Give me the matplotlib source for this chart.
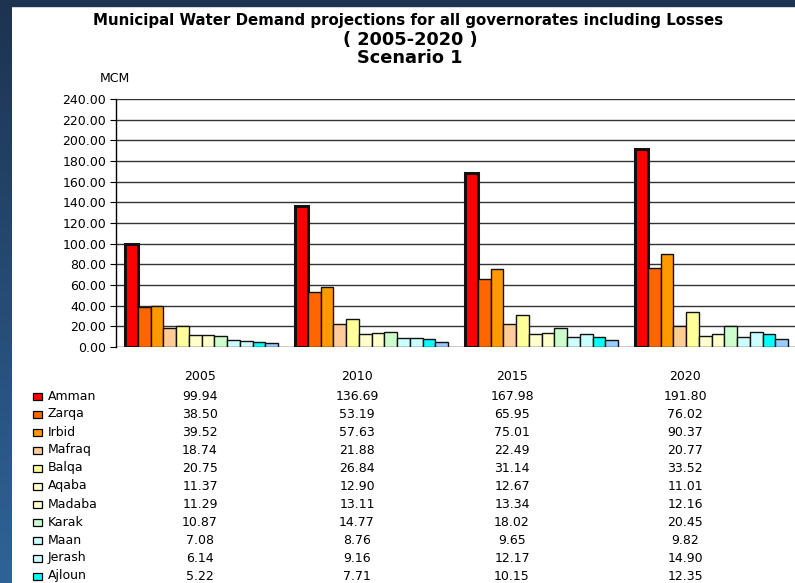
import numpy as np
import matplotlib.pyplot as plt
from matplotlib.patches import Rectangle
from matplotlib.colors import LinearSegmentedColormap

plt.rcParams['font.family'] = ['DejaVu Sans']

years = ["2005", "2010", "2015", "2020"]
names = ["Amman", "Zarqa", "Irbid", "Mafraq", "Balqa", "Aqaba", "Madaba",
         "Karak", "Maan", "Jerash", "Ajloun", "Tafileh"]

amman = [99.94, 136.69, 167.98, 191.80]
zarqa = [38.50, 53.19, 65.95, 76.02]
irbid = [39.52, 57.63, 75.01, 90.37]
mafraq = [18.74, 21.88, 22.49, 20.77]
balqa = [20.75, 26.84, 31.14, 33.52]
aqaba = [11.37, 12.90, 12.67, 11.01]
madaba = [11.29, 13.11, 13.34, 12.16]
karak = [10.87, 14.77, 18.02, 20.45]
maan = [7.08, 8.76, 9.65, 9.82]
jerash = [6.14, 9.16, 12.17, 14.90]
ajloun = [5.22, 7.71, 10.15, 12.35]
# last series is cut off from the table in the picture, values estimated from the bars
tafileh = [3.6, 5.2, 6.3, 7.6]

series = [amman, zarqa, irbid, mafraq, balqa, aqaba, madaba,
          karak, maan, jerash, ajloun, tafileh]
colors = ["#ff0000", "#ff6600", "#ff9900", "#ffcc99", "#ffff99", "#ffffcc",
          "#ffffcc", "#ccffcc", "#ccffff", "#ccffff", "#00ffff", "#99ccff"]

fig = plt.figure(figsize=(7.95, 5.83), dpi=100)

# dark blue frame (top strip + left gradient strip)
fig.patches.append(Rectangle((0, 1 - 6 / 583), 1, 6 / 583, transform=fig.transFigure,
                             color="#1d3350", zorder=0))
side = fig.add_axes([0, 0, 12 / 795, 1])
grad = np.linspace(0, 1, 256).reshape(-1, 1)
cmap = LinearSegmentedColormap.from_list("side", ["#1d3350", "#2f6398"])
side.imshow(grad, aspect="auto", cmap=cmap, extent=[0, 1, 0, 1], origin="upper")
side.axis("off")

ax = fig.add_axes([116 / 795, 1 - 347 / 583, 680 / 795, 248 / 583])

x = np.arange(len(years))
w = 0.075
start = -0.5 + 0.053
for i, (vals, c) in enumerate(zip(series, colors)):
    lw = 2.2 if i == 0 else 1.0
    ax.bar(x + start + w * (i + 0.5), vals, width=w, color=c,
           edgecolor="#111111", linewidth=lw, zorder=3)

ax.set_xlim(-0.5, 3.5)
ax.set_ylim(0, 240)
ax.set_yticks(np.arange(0, 241, 20))
ax.set_yticklabels([f"{v:.2f}" for v in np.arange(0, 241, 20)], fontsize=9)
ax.set_xticks([])
ax.grid(axis="y", color="#333333", linewidth=1.0, zorder=0)
ax.tick_params(axis="y", direction="out", length=4, width=0.8, pad=3)
for s in ["top", "right", "bottom"]:
    ax.spines[s].set_visible(False)
ax.spines["left"].set_linewidth(1.0)
ax.axhline(0, color="#cccccc", linewidth=1.2, zorder=2)

# titles
fig.text(408 / 795, 1 - 20 / 583, "Municipal Water Demand projections for all governorates including Losses",
         ha="center", va="center", fontsize=10.8, fontweight="bold")
fig.text(410 / 795, 1 - 40 / 583, "( 2005-2020 )", ha="center", va="center",
         fontsize=12.8, fontweight="bold")
fig.text(410 / 795, 1 - 58 / 583, "Scenario 1", ha="center", va="center",
         fontsize=12.8, fontweight="bold")
fig.text(115 / 795, 1 - 78 / 583, "MCM", ha="center", va="center", fontsize=9)

# data table below the chart
col_x = [200, 357, 512, 685]
for cx, yr in zip(col_x, years):
    fig.text(cx / 795, 1 - 376 / 583, yr, ha="center", va="center", fontsize=9)

row_y0 = 396
row_dy = 18.0
for r, (name, vals, c) in enumerate(zip(names, series, colors)):
    ypix = row_y0 + r * row_dy
    if ypix > 578:
        break
    yy = 1 - ypix / 583
    fig.patches.append(Rectangle((33 / 795, yy - 3.5 / 583), 9 / 795, 7 / 583,
                                 transform=fig.transFigure, facecolor=c,
                                 edgecolor="black", linewidth=0.9))
    fig.text(48 / 795, yy, name, ha="left", va="center", fontsize=9)
    for cx, v in zip(col_x, vals):
        fig.text(cx / 795, yy, f"{v:.2f}", ha="center", va="center", fontsize=9)

fig.savefig("out.png", dpi=100)
